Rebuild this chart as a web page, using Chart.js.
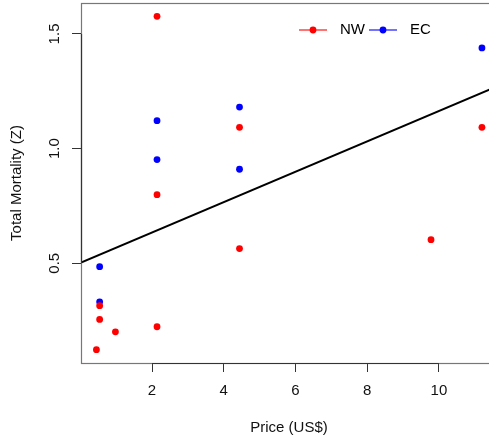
<!DOCTYPE html>
<html>
<head>
<meta charset="utf-8">
<title>Total mortality vs price</title>
<script src="https://cdn.jsdelivr.net/npm/chart.js@4/dist/chart.umd.min.js"></script>
<style>
    html, body { margin: 0; padding: 0; background: #fff; overflow: hidden; }
    #wrap { position: relative; width: 520px; height: 439px; }
</style>
</head>
<body>
<div id="wrap"><canvas id="mortChart"></canvas></div>
<script>
// Price (US$) and total mortality (Z) per region
const nwPrice = [0.45, 0.54, 0.54, 0.98, 2.14, 2.14, 2.14, 4.44, 4.44, 9.78, 11.2];
const nwZ     = [0.123, 0.255, 0.315, 0.201, 0.223, 0.799, 1.577, 0.564, 1.093, 0.603, 1.093];
const ecPrice = [0.54, 0.54, 2.14, 2.14, 4.44, 4.44, 11.2];
const ecZ     = [0.485, 0.332, 1.122, 0.952, 1.181, 0.910, 1.439];

// fitted line, end points at the plot edges
const trendPrice = [0.02, 11.62];
const trendZ     = [0.503, 1.271];

const xTicks = [2, 4, 6, 8, 10];
const yTicks = [0.5, 1.0, 1.5];

const FONT = { family: '"Liberation Sans", Arial, Helvetica, sans-serif', size: 15 };

const toPoints = (xs, ys) => xs.map((x, i) => ({ x: x, y: ys[i] }));

// box round the plot + darker axis segments between first and last tick
const framePlugin = {
    id: 'frame',
    afterDraw(chart) {
        const { ctx, chartArea: a, scales } = chart;
        ctx.save();
        ctx.strokeStyle = '#777';
        ctx.lineWidth = 1.2;
        ctx.strokeRect(a.left + 0.5, a.top + 0.5, a.right - a.left, a.bottom - a.top);

        ctx.strokeStyle = '#333';
        ctx.beginPath();
        const x0 = scales.x.getPixelForValue(xTicks[0]);
        const x1 = scales.x.getPixelForValue(xTicks[xTicks.length - 1]);
        ctx.moveTo(x0, a.bottom + 0.5);
        ctx.lineTo(x1, a.bottom + 0.5);
        const y0 = scales.y.getPixelForValue(yTicks[0]);
        const y1 = scales.y.getPixelForValue(yTicks[yTicks.length - 1]);
        ctx.moveTo(a.left + 0.5, y0);
        ctx.lineTo(a.left + 0.5, y1);
        ctx.stroke();
        ctx.restore();
    }
};

// horizontal legend inside the plot: faded line, dot, label
const lineLegendPlugin = {
    id: 'lineLegend',
    afterDraw(chart) {
        const { ctx, chartArea: a } = chart;
        const items = chart.data.datasets.filter(d => d.showInLegend);
        ctx.save();
        ctx.font = `${FONT.size}px ${FONT.family}`;
        ctx.textBaseline = 'middle';
        const maxW = Math.max(...items.map(d => ctx.measureText(d.label).width));
        const colW = 41 + maxW + 4;
        let x = a.left + 218;
        const y = a.top + 27;
        items.forEach(d => {
            ctx.globalAlpha = 0.55;
            ctx.strokeStyle = d.backgroundColor;
            ctx.lineWidth = 2;
            ctx.beginPath();
            ctx.moveTo(x, y);
            ctx.lineTo(x + 28, y);
            ctx.stroke();
            ctx.globalAlpha = 1;
            ctx.fillStyle = d.backgroundColor;
            ctx.beginPath();
            ctx.arc(x + 14, y, 3.4, 0, Math.PI * 2);
            ctx.fill();
            ctx.fillStyle = '#000';
            ctx.fillText(d.label, x + 41, y);
            x += colW;
        });
        ctx.restore();
    }
};

const ctx = document.getElementById('mortChart').getContext('2d');

new Chart(ctx, {
    type: 'scatter',
    data: {
        datasets: [
            {
                label: 'NW',
                data: toPoints(nwPrice, nwZ),
                backgroundColor: '#ff0000',
                borderWidth: 0,
                pointRadius: 3.4,
                showInLegend: true
            },
            {
                label: 'EC',
                data: toPoints(ecPrice, ecZ),
                backgroundColor: '#0000ff',
                borderWidth: 0,
                pointRadius: 3.4,
                showInLegend: true
            },
            {
                type: 'line',
                label: 'fit',
                data: toPoints(trendPrice, trendZ),
                borderColor: '#000',
                borderWidth: 2,
                pointRadius: 0,
                fill: false
            }
        ]
    },
    options: {
        responsive: true,
        maintainAspectRatio: false,
        animation: false,
        devicePixelRatio: 1,
        layout: { autoPadding: false, padding: { left: 0, top: 3, right: 23, bottom: 0 } },
        plugins: {
            legend: { display: false },
            tooltip: { enabled: false }
        },
        scales: {
            x: {
                type: 'linear',
                min: 0.02,
                max: 11.62,
                bounds: 'data',
                border: { display: false },
                grid: { drawOnChartArea: false, drawTicks: true, tickLength: 9, tickColor: '#333' },
                ticks: { font: FONT, color: '#111', padding: 10, maxRotation: 0 },
                afterBuildTicks: scale => { scale.ticks = xTicks.map(v => ({ value: v })); },
                afterFit: scale => {
                    scale.height = 76;
                    scale.paddingLeft = 0;
                    scale.paddingRight = 0;
                },
                title: { display: true, text: 'Price (US$)', font: FONT, color: '#111', padding: { top: 0, bottom: 2 } }
            },
            y: {
                type: 'linear',
                min: 0.065,
                max: 1.635,
                bounds: 'data',
                border: { display: false },
                grid: { drawOnChartArea: false, drawTicks: true, tickLength: 9, tickColor: '#333' },
                ticks: {
                    font: FONT,
                    color: '#111',
                    padding: 6.5,
                    minRotation: 90,
                    maxRotation: 90,
                    crossAlign: 'center',
                    callback: v => v.toFixed(1)
                },
                afterBuildTicks: scale => { scale.ticks = yTicks.map(v => ({ value: v })); },
                afterFit: scale => {
                    scale.width = 81;
                    scale.paddingTop = 0;
                    scale.paddingBottom = 0;
                },
                title: { display: true, text: 'Total Mortality (Z)', font: FONT, color: '#111', padding: { top: 8, bottom: 0 } }
            }
        }
    },
    plugins: [framePlugin, lineLegendPlugin]
});
</script>
</body>
</html>
